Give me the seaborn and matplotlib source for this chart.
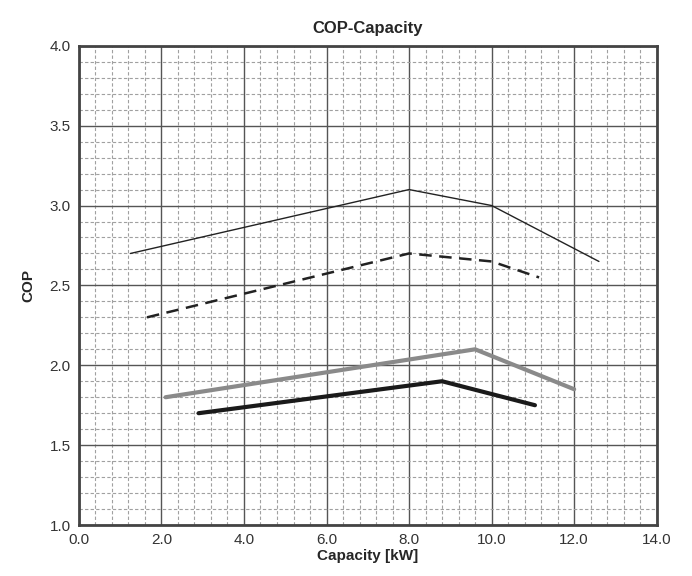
import matplotlib
matplotlib.use("Agg")
import matplotlib.pyplot as plt
import seaborn as sns
from matplotlib.ticker import MultipleLocator, FormatStrFormatter

thin_x = [1.25, 8.0, 10.0, 12.6]
thin_y = [2.70, 3.10, 3.00, 2.65]

dash_x = [1.65, 8.0, 10.0, 11.15]
dash_y = [2.30, 2.70, 2.65, 2.55]

gray_x = [2.1, 9.6, 12.0]
gray_y = [1.80, 2.10, 1.85]

black_x = [2.9, 8.8, 11.05]
black_y = [1.70, 1.90, 1.75]

sns.set_style("white")
plt.rcParams["font.family"] = ["Liberation Sans", "DejaVu Sans"]

fig = plt.figure(figsize=(6.92, 5.76), dpi=100)
ax = fig.add_axes([0.114, 0.0885, 0.835, 0.832])

sns.lineplot(x=thin_x, y=thin_y, ax=ax, color="#222222", linewidth=1.0)
sns.lineplot(x=dash_x, y=dash_y, ax=ax, color="#222222", linewidth=1.8,
             linestyle=(0, (5, 3)))
sns.lineplot(x=gray_x, y=gray_y, ax=ax, color="#8a8a8a", linewidth=3.0)
sns.lineplot(x=black_x, y=black_y, ax=ax, color="#1a1a1a", linewidth=3.0)

ax.set_xlim(0, 14)
ax.set_ylim(1.0, 4.0)
ax.xaxis.set_major_locator(MultipleLocator(2.0))
ax.xaxis.set_minor_locator(MultipleLocator(0.4))
ax.yaxis.set_major_locator(MultipleLocator(0.5))
ax.yaxis.set_minor_locator(MultipleLocator(0.1))
ax.xaxis.set_major_formatter(FormatStrFormatter("%.1f"))
ax.yaxis.set_major_formatter(FormatStrFormatter("%.1f"))

ax.grid(which="major", color="#555555", linewidth=1.0)
ax.grid(which="minor", color="#a0a0a0", linewidth=0.8, linestyle=(0, (3, 2)))
ax.set_axisbelow(True)

for s in ax.spines.values():
    s.set_color("#444444")
    s.set_linewidth(2.0)

ax.tick_params(which="both", length=0, labelsize=11, colors="#333333")
ax.tick_params(axis="x", pad=6)
ax.tick_params(axis="y", pad=6)

ax.set_title("COP-Capacity", fontsize=12, fontweight="bold", pad=9)
ax.set_xlabel("Capacity [kW]", fontsize=11, fontweight="bold", labelpad=1)
ax.set_ylabel("COP", fontsize=11, fontweight="bold", labelpad=10)

fig.savefig("out.png", dpi=100)
